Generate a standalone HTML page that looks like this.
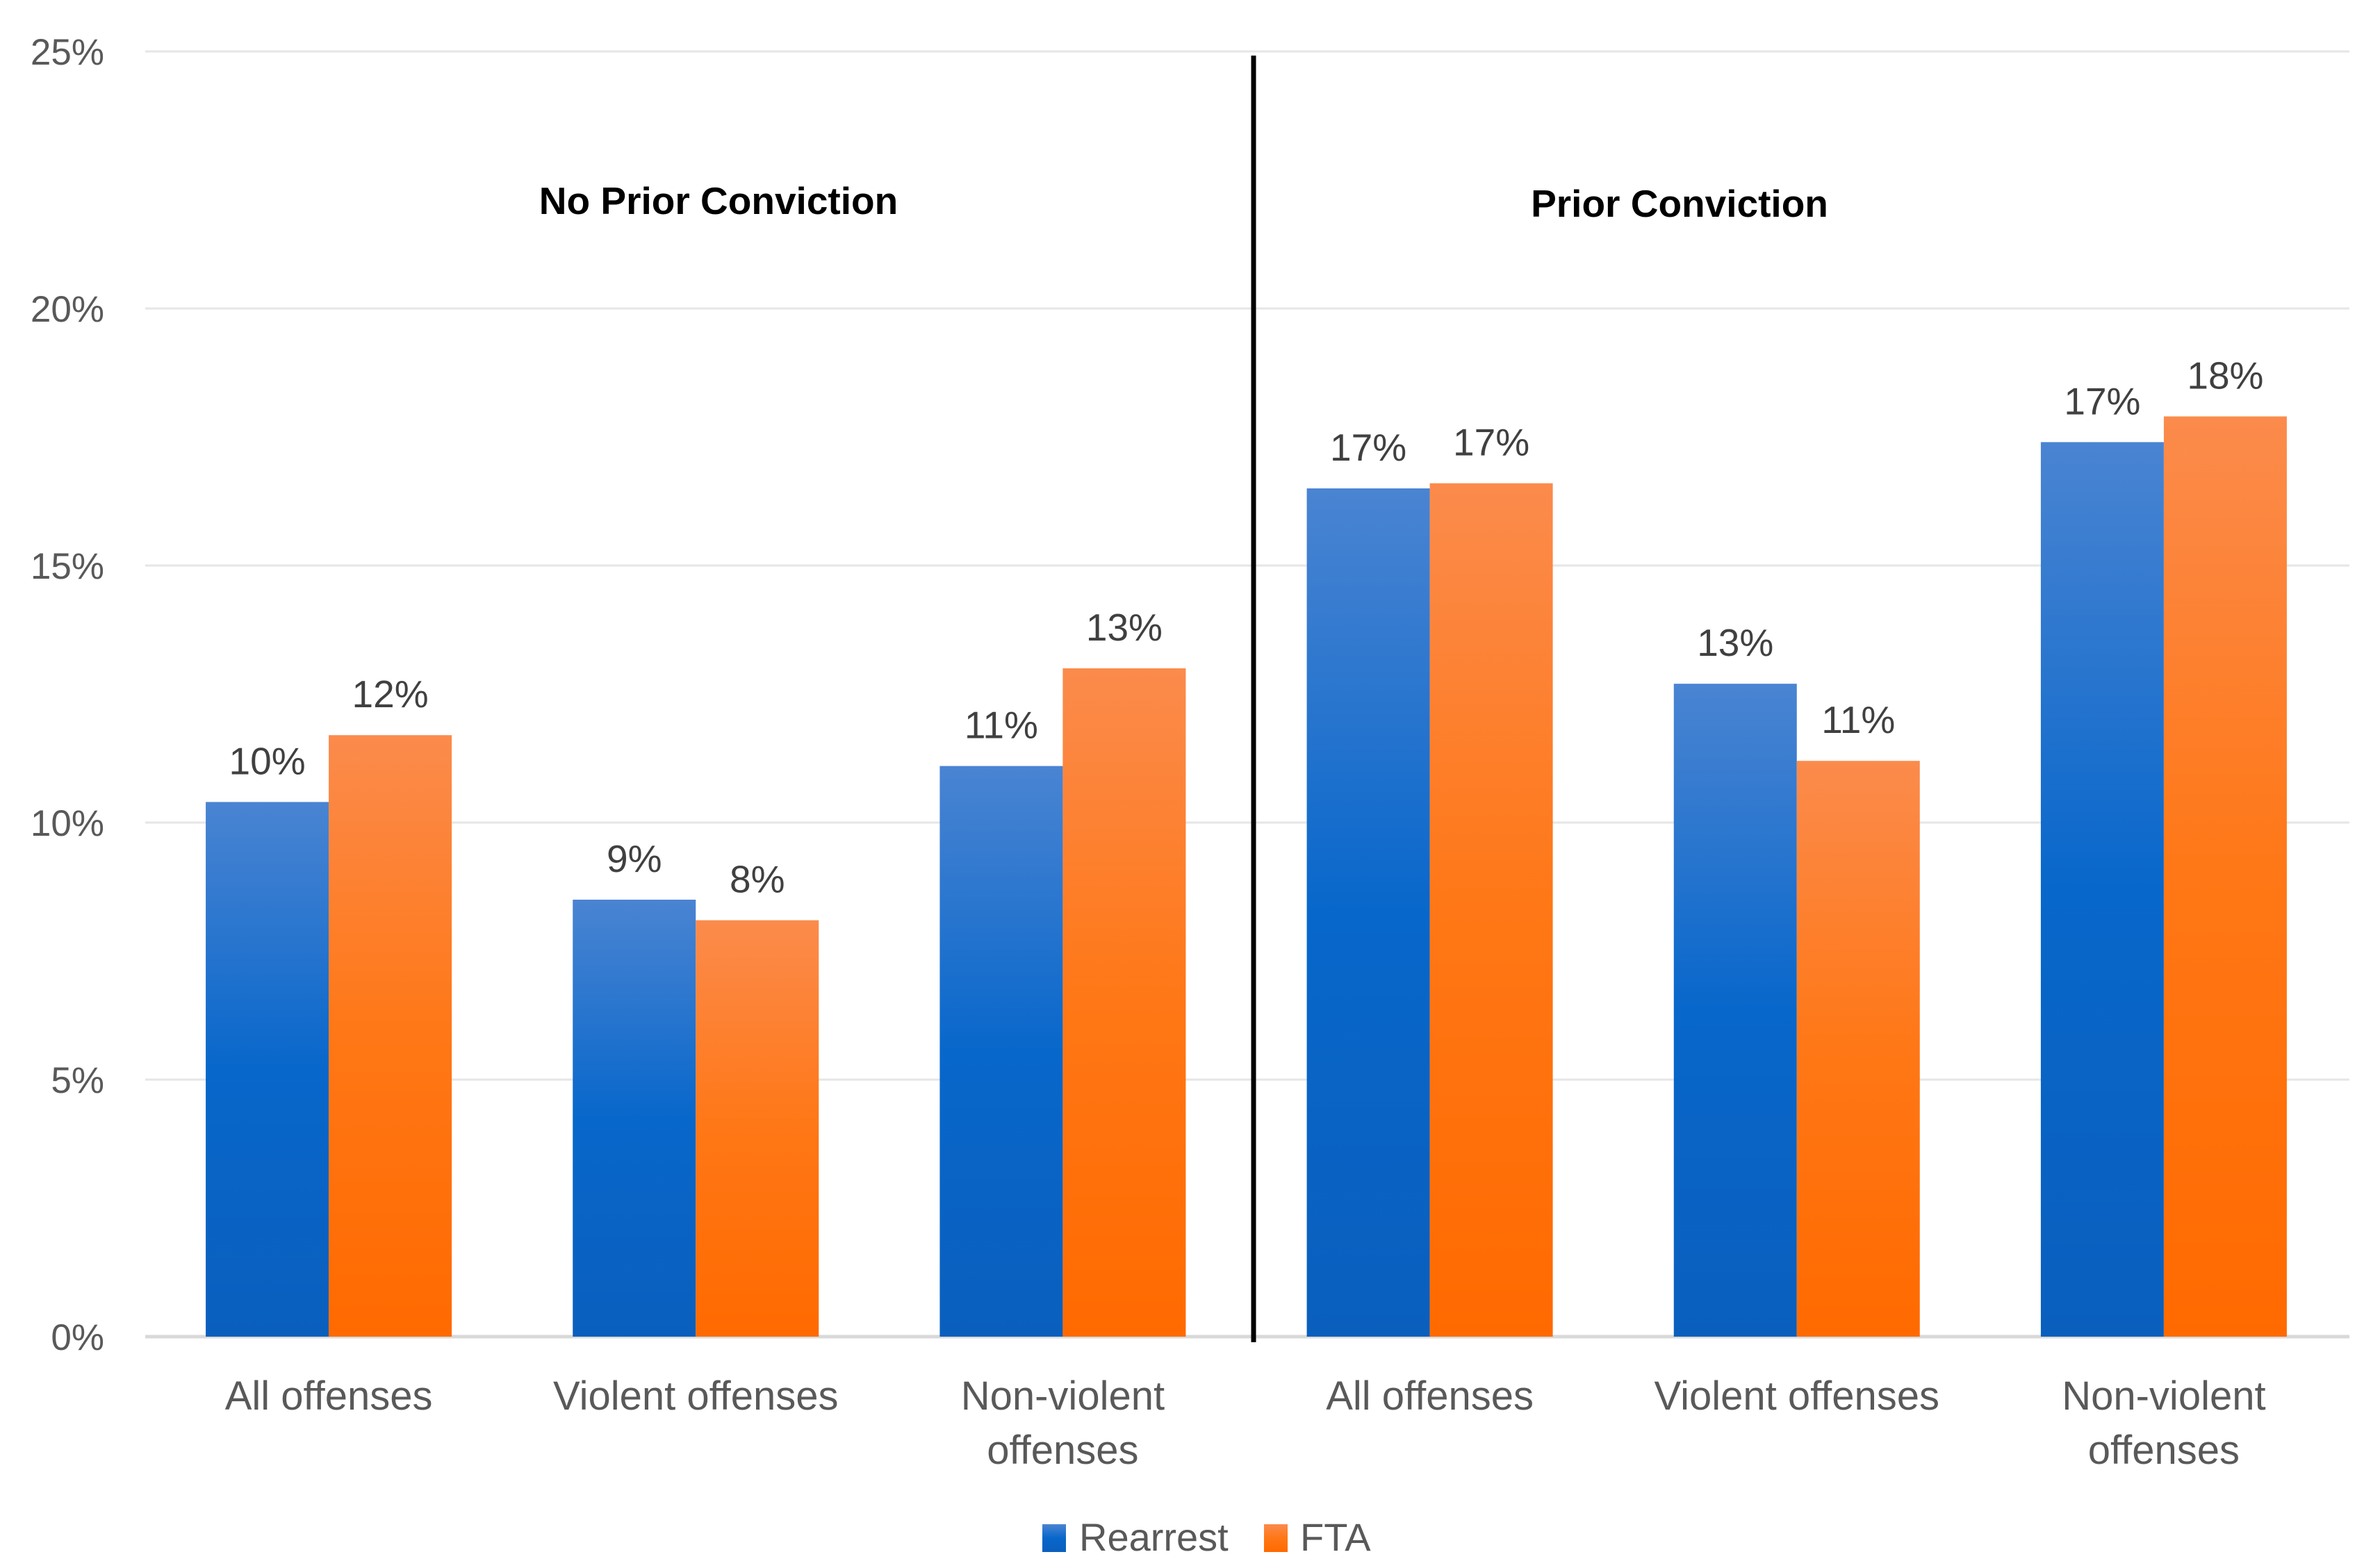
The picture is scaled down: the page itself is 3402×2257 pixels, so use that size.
<!DOCTYPE html>
<html><head><meta charset="utf-8"><style>
html,body{margin:0;padding:0;background:#fff}
svg{display:block;font-family:"Liberation Sans",sans-serif}
</style></head><body>
<svg id="chart" width="3402" height="2257" viewBox="0 0 3402 2257" xmlns="http://www.w3.org/2000/svg">
<defs>
<linearGradient id="gBlue" x1="0" y1="0" x2="0" y2="1"><stop offset="0" stop-color="#4a84d2"/><stop offset="0.5" stop-color="#0867cb"/><stop offset="1" stop-color="#0a5fbd"/></linearGradient>
<linearGradient id="gOrange" x1="0" y1="0" x2="0" y2="1"><stop offset="0" stop-color="#fb8b4c"/><stop offset="0.5" stop-color="#ff7716"/><stop offset="1" stop-color="#ff6a00"/></linearGradient>
</defs>
<g id="grid"></g>
<g id="bars"></g>
<g id="labels"></g>
<line x1="1804" y1="80" x2="1804" y2="1932" stroke="#000" stroke-width="7"/>
<text x="1034" y="308" text-anchor="middle" font-size="55" font-weight="bold" fill="#000">No Prior Conviction</text>
<text x="2417" y="312" text-anchor="middle" font-size="55" font-weight="bold" fill="#000">Prior Conviction</text>
<g>
<rect x="1500" y="2194" width="34" height="40" fill="url(#gBlue)"/>
<text x="1553" y="2232" font-size="56" fill="#595959">Rearrest</text>
<rect x="1819" y="2194" width="34" height="40" fill="url(#gOrange)"/>
<text x="1871" y="2232" font-size="56" fill="#595959">FTA</text>
</g>
</svg>
<script>
const categories = [["All offenses"],["Violent offenses"],["Non-violent","offenses"],["All offenses"],["Violent offenses"],["Non-violent","offenses"]];
const rearrest = [10.4, 8.5, 11.1, 16.5, 12.7, 17.4];
const fta = [11.7, 8.1, 13.0, 16.6, 11.2, 17.9];
const rearrestLabels = ["10%","9%","11%","17%","13%","17%"];
const ftaLabels = ["12%","8%","13%","17%","11%","18%"];
const yTicks = [0,5,10,15,20,25];
const yTickLabels = ["0%","5%","10%","15%","20%","25%"];

const NS="http://www.w3.org/2000/svg";
const plotL=209, plotR=3378, y0=1924, yTop=74, yMax=25;
const catW=(plotR-plotL)/categories.length, barW=177;
function y(v){return y0-(v/yMax)*(y0-yTop);}
function xc(i){return plotL+catW*(i+0.5);}
function mk(tag,attrs,parent){const e=document.createElementNS(NS,tag);for(const k in attrs)e.setAttribute(k,attrs[k]);parent.appendChild(e);return e;}
const grid=document.getElementById('grid'),bars=document.getElementById('bars'),labels=document.getElementById('labels');
yTicks.forEach((t,i)=>{
  const l=mk('line',{x1:plotL,x2:3381,y1:y(t),y2:y(t),stroke:t===0?'#d9d9d9':'#e6e6e6','stroke-width':t===0?5:3},grid);
  
  
  const tx=mk('text',{x:150,y:y(t)+19,'text-anchor':'end','font-size':53,fill:'#595959'},grid);
  tx.textContent=yTickLabels[i];
  
  
});
categories.forEach((c,i)=>{
  const cx=xc(i);
  const b=mk('rect',{x:cx-barW,y:y(rearrest[i]),width:barW,height:y0-y(rearrest[i]),fill:'url(#gBlue)'},bars);
  
  
  const o=mk('rect',{x:cx,y:y(fta[i]),width:barW,height:y0-y(fta[i]),fill:'url(#gOrange)'},bars);
  
  
  const lb=mk('text',{x:cx-barW/2,y:y(rearrest[i])-40,'text-anchor':'middle','font-size':55,fill:'#404040'},labels);
  lb.textContent=rearrestLabels[i];
  
  
  const lo=mk('text',{x:cx+barW/2,y:y(fta[i])-40,'text-anchor':'middle','font-size':55,fill:'#404040'},labels);
  lo.textContent=ftaLabels[i];
  
  
  c.forEach((line,j)=>{
    const t=mk('text',{x:cx,y:2029+j*78,'text-anchor':'middle','font-size':58,fill:'#595959'},labels);
    t.textContent=line;
    
    
  });
});
</script>
</body></html>
